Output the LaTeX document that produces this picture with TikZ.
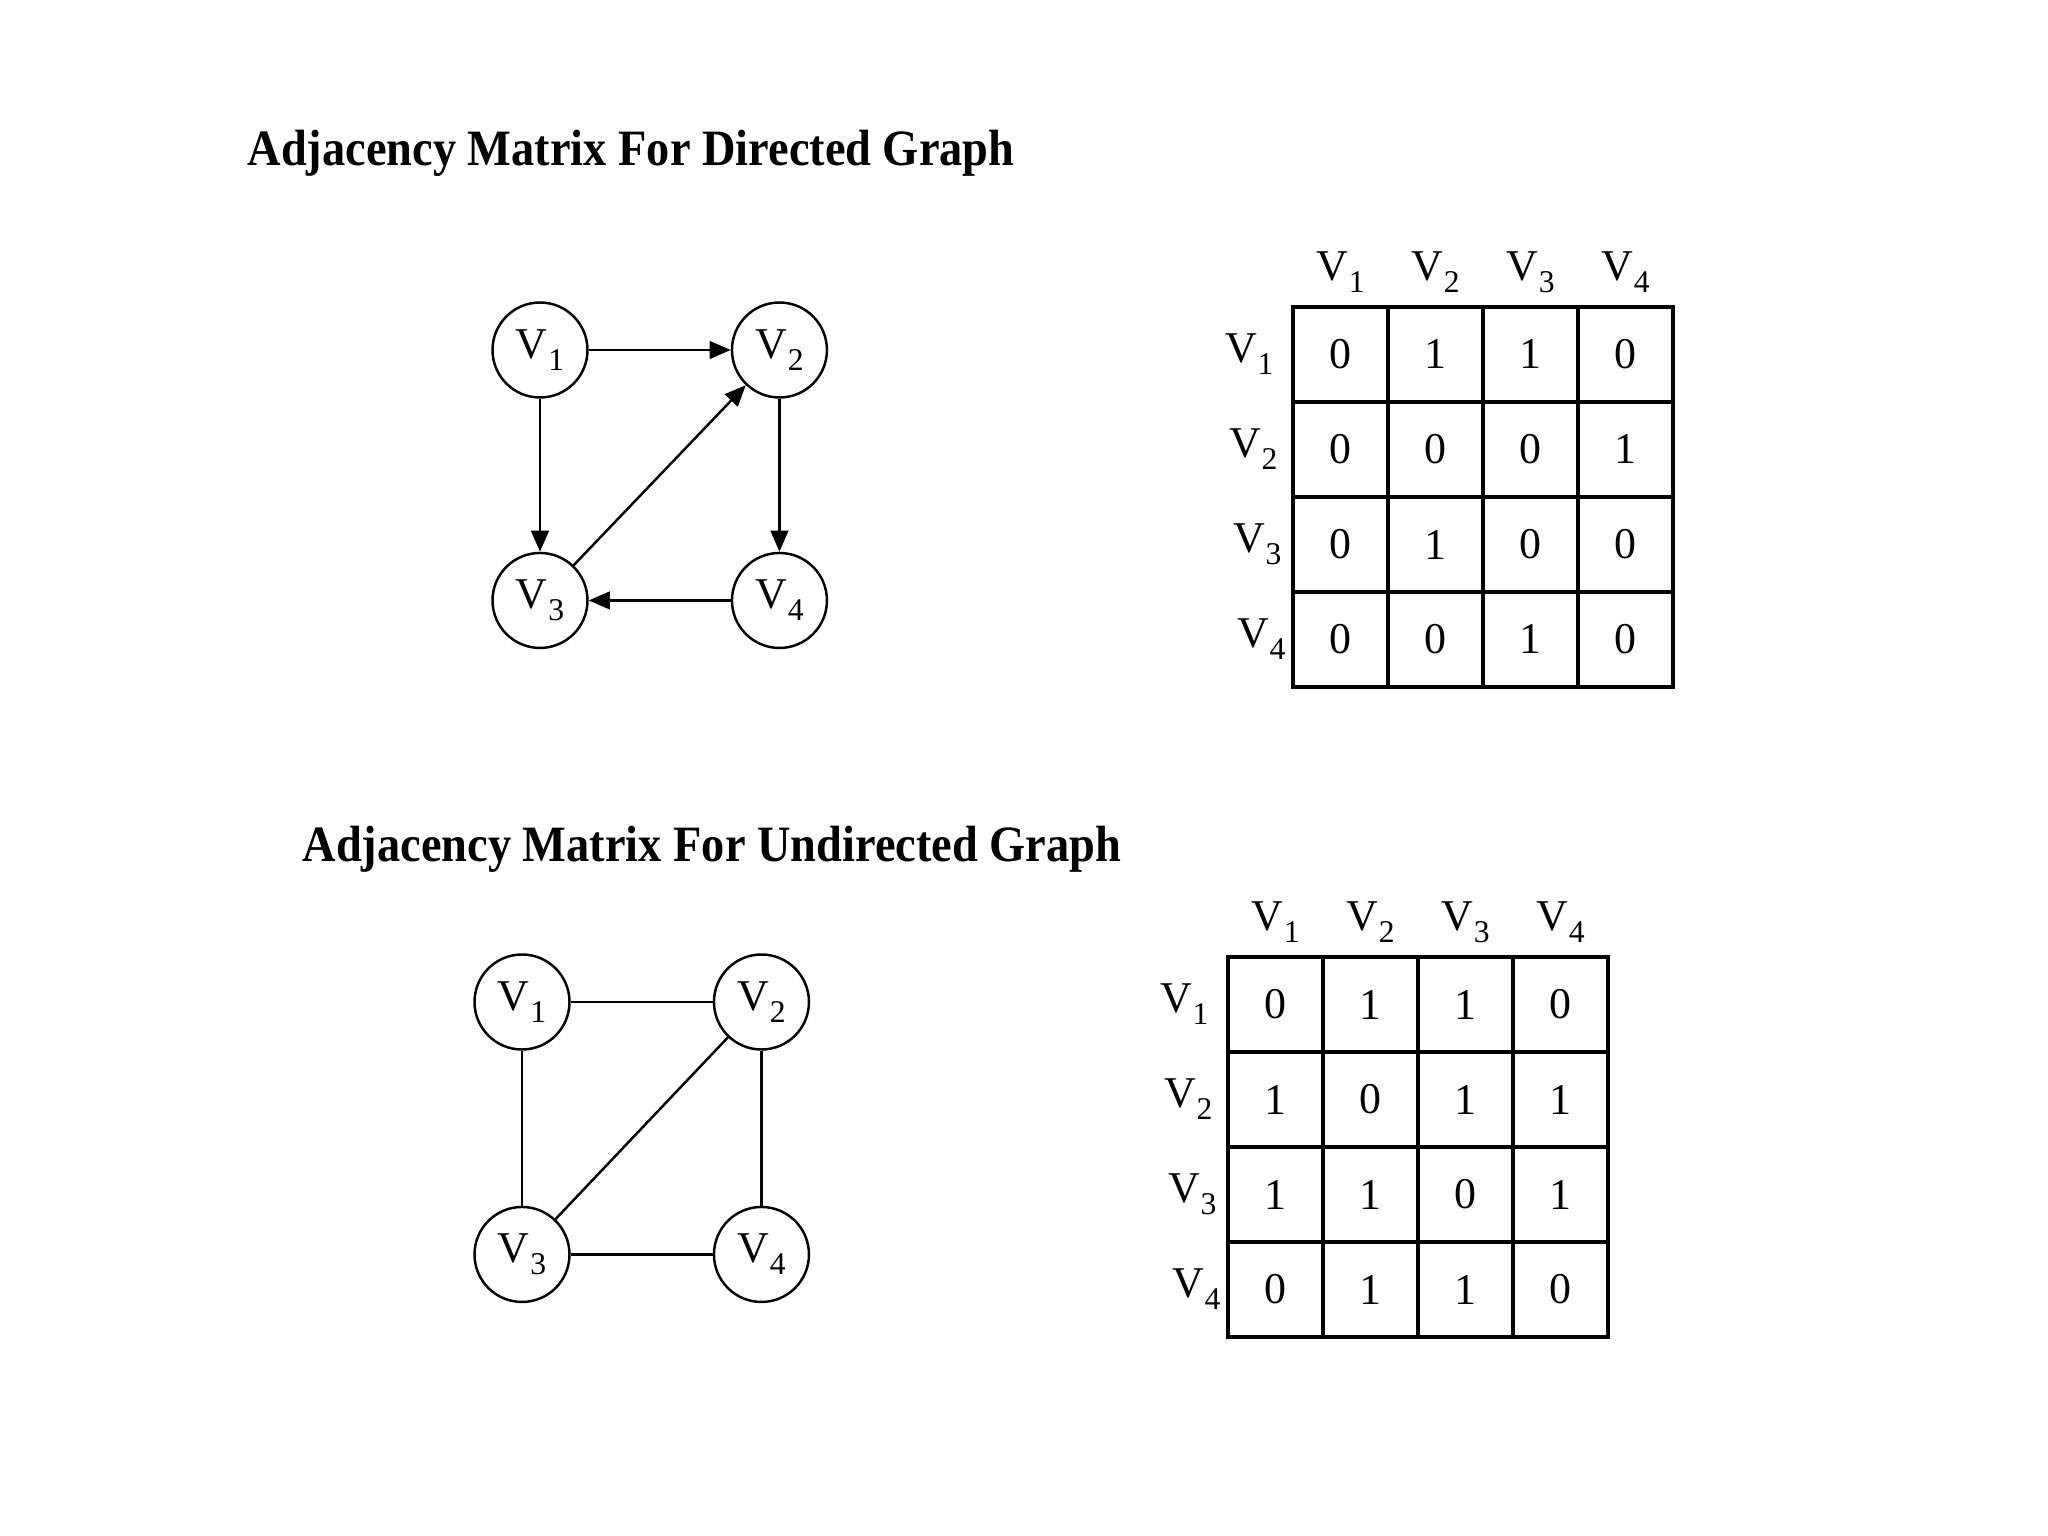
\documentclass[tikz,border=0pt]{standalone}
\usepackage{fontspec}
\setmainfont{Liberation Serif}
\newfontfamily\titlefont[FakeStretch=0.91]{Liberation Serif}
\usetikzlibrary{arrows.meta,positioning}
\newcommand{\vname}[1]{V\kern0.2pt\raisebox{-0.6ex}{\fontsize{9}{9}\selectfont #1}}
\newcommand{\dirrows}{{0,1,1,0},{0,0,0,1},{0,1,0,0},{0,0,1,0}}
\newcommand{\undrows}{{0,1,1,0},{1,0,1,1},{1,1,0,1},{0,1,1,0}}

\begin{document}
\begin{tikzpicture}[>={Triangle[length=6pt,width=5pt]},node distance=1.43cm,
    vtx/.style={circle,draw,line width=0.7pt,minimum size=0.95cm,inner sep=0pt,
      font=\fontsize{12.5}{14}\selectfont},
    cell/.style={rectangle,draw,line width=1pt,minimum size=0.95cm,inner sep=0pt,
      font=\fontsize{12.5}{14}\selectfont},
    lbl/.style={inner sep=0pt,font=\fontsize{12.5}{14}\selectfont},
    heading/.style={anchor=base west,inner sep=0pt,
      font=\titlefont\bfseries\fontsize{14.5}{16}\selectfont}]
  \useasboundingbox (0,0) rectangle (20.48,-15.36);

  % directed graph
  \node[heading] (t1) at (2.47,-1.66) {Adjacency Matrix For Directed Graph};
  \node[vtx] (v1) at (5.40,-3.50) {\vname{1}};
  \node[vtx,right=1.42cm of v1] (v2) {\vname{2}};
  \node[vtx,below=1.53cm of v1] (v3) {\vname{3}};
  \node[vtx,right=1.42cm of v3] (v4) {\vname{4}};
  \draw[->,line width=0.7pt] (v1) -- (v2);
  \draw[->,thick] (v1) -- (v3);
  \draw[->,line width=0.7pt] (v3) -- (v2);
  \draw[->,thick] (v2) -- (v4);
  \draw[->,line width=0.7pt] (v4) -- (v3);

  \foreach \row [count=\r] in \dirrows {
    \foreach \val [count=\c] in \row {
      \node[cell] (m1-\r-\c) at ({13.405+0.95*(\c-1)},{-3.545-0.95*(\r-1)}) {\val};
    }
  }
  \foreach \i in {1,...,4} {
    \node[lbl,yshift=0.33cm] (h1-\i) at (m1-1-\i.north) {\vname{\i}};
    \node[lbl,xshift={-0.42cm+0.04cm*(\i-1)}] (r1-\i) at (m1-\i-1.west) {\vname{\i}};
  }

  % undirected graph
  \node[heading] (t2) at (3.02,-8.61) {Adjacency Matrix For Undirected Graph};
  \node[vtx] (u1) at (5.22,-10.02) {\vname{1}};
  \node[vtx,right=1.42cm of u1] (u2) {\vname{2}};
  \node[vtx,below=1.55cm of u1] (u3) {\vname{3}};
  \node[vtx,right=1.42cm of u3] (u4) {\vname{4}};
  \draw[line width=0.7pt] (u1) -- (u2);
  \draw[line width=0.7pt] (u1) -- (u3);
  \draw[line width=0.7pt] (u3) -- (u2);
  \draw[line width=0.7pt] (u2) -- (u4);
  \draw[line width=0.7pt] (u3) -- (u4);

  \foreach \row [count=\r] in \undrows {
    \foreach \val [count=\c] in \row {
      \node[cell] (m2-\r-\c) at ({12.755+0.95*(\c-1)},{-10.045-0.95*(\r-1)}) {\val};
    }
  }
  \foreach \i in {1,...,4} {
    \node[lbl,yshift=0.33cm] (h2-\i) at (m2-1-\i.north) {\vname{\i}};
    \node[lbl,xshift={-0.42cm+0.04cm*(\i-1)}] (r2-\i) at (m2-\i-1.west) {\vname{\i}};
  }
\end{tikzpicture}
\end{document}
